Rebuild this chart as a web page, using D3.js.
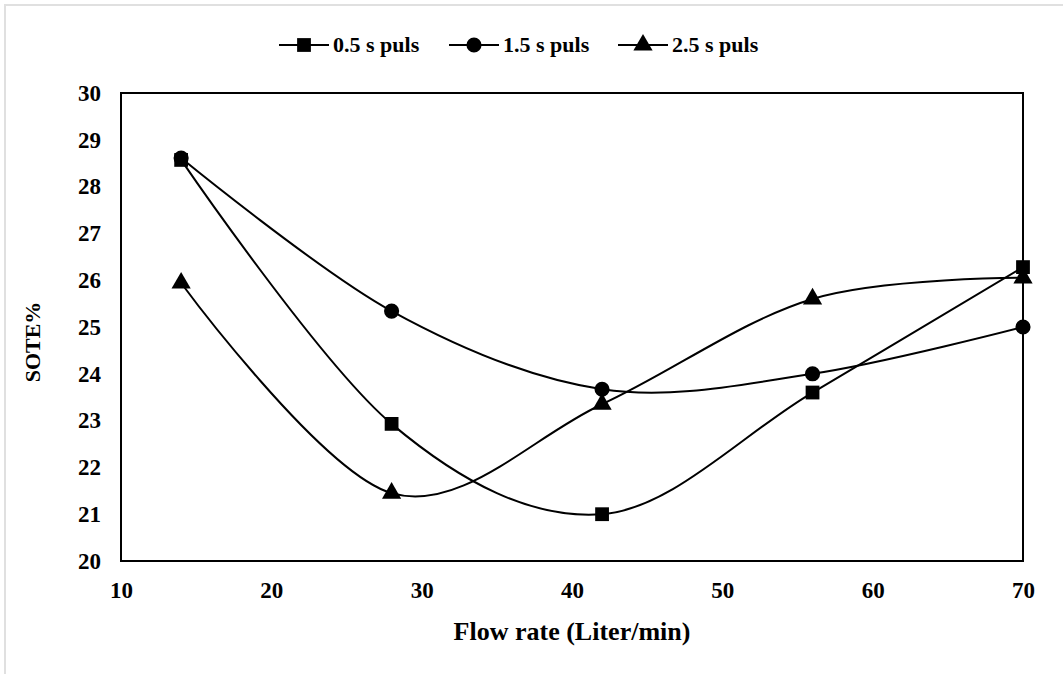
<!DOCTYPE html>
<html><head><meta charset="utf-8">
<script src="https://cdn.jsdelivr.net/npm/d3@7"></script>
<style>body{margin:0;background:#fff}svg{display:block}text{font-family:"Liberation Serif","Times New Roman",serif;font-weight:bold;fill:#000}</style>
</head><body><svg id="c" width="1063" height="674"></svg>
<script>
const flow = [14, 28, 42, 56, 70];
const puls05 = [28.57, 22.93, 21.0, 23.6, 26.28];
const puls15 = [28.61, 25.34, 23.67, 24.0, 25.0];
const puls25 = [25.94, 21.45, 23.35, 25.6, 26.05];
const seriesNames = ["0.5 s puls", "1.5 s puls", "2.5 s puls"];
const xTicks = [10, 20, 30, 40, 50, 60, 70];
const yTicks = [20, 21, 22, 23, 24, 25, 26, 27, 28, 29, 30];

const svg = d3.select("#c");
svg.append("rect").attr("x",5).attr("y",5).attr("width",1070).attr("height",680)
  .attr("fill","none").attr("stroke","#e0e0e0").attr("stroke-width",2);

const L=121,R=1023,T=93,B=561;
const x = d3.scaleLinear().domain([10,70]).range([L,R]);
const y = d3.scaleLinear().domain([20,30]).range([B,T]);

svg.append("rect").attr("x",L).attr("y",T).attr("width",R-L).attr("height",B-T)
  .attr("fill","none").attr("stroke","#000").attr("stroke-width",2);

const xa = svg.append("g").attr("transform",`translate(0,${B})`)
  .call(d3.axisBottom(x).tickValues(xTicks).tickSize(0).tickPadding(21).tickFormat(d3.format("d")));
xa.select(".domain").remove();
xa.selectAll("text").attr("font-size",23).style("font-family","Liberation Serif").style("font-weight","bold");
const ya = svg.append("g").attr("transform",`translate(${L},0)`)
  .call(d3.axisLeft(y).tickValues(yTicks).tickSize(0).tickPadding(20).tickFormat(d3.format("d")));
ya.select(".domain").remove();
ya.selectAll("text").attr("font-size",23).style("font-family","Liberation Serif").style("font-weight","bold");

svg.append("text").attr("x",(L+R)/2).attr("y",640).attr("text-anchor","middle").attr("font-size",26).text("Flow rate (Liter/min)");
svg.append("text").attr("transform",`translate(40,342) rotate(-90)`).attr("text-anchor","middle").attr("font-size",22).text("SOTE%");

const data = [puls05, puls15, puls25];
const symbols = [d3.symbolSquare, d3.symbolCircle, d3.symbolTriangle];
const symSizes = [190, 180, 160];
const line = d3.line().x(d=>x(d[0])).y(d=>y(d[1])).curve(d3.curveCardinal.tension(0));

data.forEach((vals,i)=>{
  const pts = flow.map((f,j)=>[f,vals[j]]);
  svg.append("path").attr("d",line(pts)).attr("fill","none").attr("stroke","#000").attr("stroke-width",2);
  svg.selectAll(null).data(pts).enter().append("path")
    .attr("d",d3.symbol().type(symbols[i]).size(symSizes[i]))
    .attr("transform",d=>`translate(${x(d[0])},${y(d[1])})`).attr("fill","#000");
});

const legX = [279, 449, 618];
seriesNames.forEach((n,i)=>{
  const g = svg.append("g").attr("transform",`translate(${legX[i]},45)`);
  g.append("line").attr("x1",0).attr("x2",50).attr("y1",0).attr("y2",0).attr("stroke","#000").attr("stroke-width",2);
  g.append("path").attr("d",d3.symbol().type(symbols[i]).size(symSizes[i])).attr("transform","translate(25,0)").attr("fill","#000");
  g.append("text").attr("x",54).attr("y",7).attr("font-size",22).text(n);
});
</script></body></html>
